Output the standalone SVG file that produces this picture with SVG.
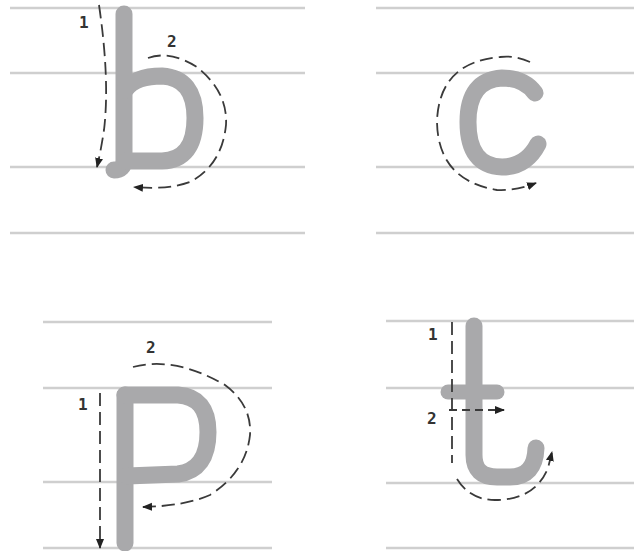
<svg xmlns="http://www.w3.org/2000/svg" width="634" height="551" viewBox="0 0 634 551">
<style>
.rule{stroke:#cfcfcf;stroke-width:2.5;fill:none}
.letter{stroke:#a9a9ab;stroke-width:17;fill:none;stroke-linecap:round;stroke-linejoin:round}
.guide{stroke:#3a3a3a;stroke-width:1.8;fill:none;stroke-dasharray:13 6}
.lbl{font-family:"DejaVu Sans Mono",monospace;font-weight:bold;font-size:16px;fill:#333}
</style>
<defs>
<marker id="ah" viewBox="0 0 10 10" refX="9" refY="5" markerWidth="10" markerHeight="10" orient="auto" markerUnits="userSpaceOnUse">
<path d="M0,1 L10,5 L0,9 Z" fill="#222"/>
</marker>
</defs>
<rect width="634" height="551" fill="#fff"/>
<g id="rules">
<path class="rule" d="M10,8H305M10,73H305M10,167H305M10,233H305"/>
<path class="rule" d="M376,8H634M376,73H634M376,167H634M376,233H634"/>
<path class="rule" d="M43,322H272M43,388H272M43,482H272M43,548H272"/>
<path class="rule" d="M386,321H634M386,388H634M386,483H634M386,548H634"/>
</g>
<g id="letter-b">
<path class="letter" d="M124,14 L124,160 Q124,170 114,170"/>
<path class="letter" d="M125,90 Q135,76 162,76 Q195,78 195,118 Q195,160 162,161 L126,161"/>
<path class="guide" d="M99,5 Q110,80 104,130 Q101,150 97,167" marker-end="url(#ah)"/>
<path class="guide" d="M148,58 Q170,50 197,67 Q228,92 226,125 Q222,165 190,182 Q168,190 134,187" marker-end="url(#ah)"/>
<text class="lbl" x="79" y="28">1</text>
<text class="lbl" x="167" y="47">2</text>
</g>
<g id="letter-c">
<path class="letter" d="M535,93 Q524,78 502,78 Q468,80 468,122 Q468,166 502,167 Q526,167 538,144"/>
<path class="guide" d="M530,62 Q515,55 500,57 Q440,62 437,120 Q437,180 497,190 Q515,191 536,183" marker-end="url(#ah)"/>
</g>
<g id="letter-p">
<path class="letter" d="M125,395 L125,543"/>
<path class="letter" d="M125,395 L178,395 Q208,397 208,432 Q208,470 178,474 L127,476"/>
<path class="guide" d="M100,393 L100,548" marker-end="url(#ah)"/>
<path class="guide" d="M133,367 Q175,356 225,385 Q252,405 250,435 Q246,472 210,495 Q185,506 143,507" marker-end="url(#ah)"/>
<text class="lbl" x="78" y="410">1</text>
<text class="lbl" x="146" y="353">2</text>
</g>
<g id="letter-t">
<path class="letter" d="M474,326 L474,455 Q474,477 497,477 L510,477 Q535,477 536,448"/>
<path class="letter" d="M448,392 L497,392" style="stroke-width:15"/>
<path class="guide" d="M452,322 L452,463"/>
<path class="guide" d="M449,410 L504,410" style="stroke-dasharray:8 5" marker-end="url(#ah)"/>
<path class="guide" d="M457,479 Q470,500 495,500 Q535,500 548,468 Q550,460 552,452" marker-end="url(#ah)"/>
<text class="lbl" x="428" y="340">1</text>
<text class="lbl" x="427" y="424">2</text>
</g>
</svg>
